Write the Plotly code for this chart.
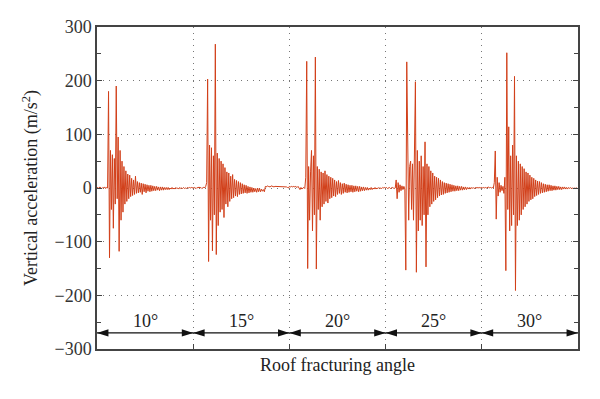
import numpy as np
import plotly.graph_objects as go

# ---- data ----
angle_labels = ["10°", "15°", "20°", "25°", "30°"]

seg_10 = [0, 1, -1, 2, 0, -1, 1, 0, 2, -1, 1, 0,
          180, -130, 70, -40, 62, -75, 55, -30, 190, -20, 95, -118,
          70, -60, 50, -45, 40, -30, 32, -25, 26, -20, 24, -16,
          18, -14, 15, -12, 22, -10, 12, -9, 10, -8, 9, -12,
          8, -7, 7, -9, 6, -6, 5, -7, 5, -6, 4, -5,
          3, -5, 3, -4, 2, -5, 2, -4, 2, -4, 1, -3,
          1, -3, 1, -3, 0, -2, 1, -2, 0, -2, 1, -1,
          0, -2, 1, -1, 0, -1, 1, -1, 0, -1, 1, 0, 1, 0, 1, 0]

seg_15 = [0, 1, 0, -1, 1, 0, 2, 0, 1, -1, 0, 2, 0, 3,
          10, 203, -137, 80, -60, 75, -117, 60, -50, 268, -124, 65,
          -70, 55, -45, 50, -40, 45, -55, 38, -30, 30, -35, 28,
          -25, 22, -20, 25, -18, 16, -15, 14, -16, 12, -12, 10,
          -11, 8, -10, 6, -9, 5, -10, 3, -9, 2, -8, 1,
          -8, 0, -7, -1, -8, 0, -7, -1, -7, -2, -6, -3,
          -7, 3, 2, 4, 3, 3, 2, 4, 3, 3, 2, 3,
          3, 2, 3, 3, 2, 3, 2, 3, 3, 2, 3, 2, 1, 0]

seg_20 = [3, 2, 3, 2, 3, 2, 3, 2, 1, 3, 0, -3, 1, -2, 0, 1, -1,
          20, 236, -150, 40, -60, 30, 70, -80, 60, -50, 244, -151,
          40, -40, 35, -60, 30, -35, 28, -30, 32, -25, 25, -28,
          22, -20, 20, -18, 18, -15, 15, -16, 12, -12, 14, -10,
          10, -12, 8, -10, 9, -8, 7, -9, 6, -8, 5, -7,
          5, -8, 4, -7, 4, -6, 3, -7, 3, -6, 2, -5,
          2, -5, 1, -4, 1, -4, 0, -3, 1, -3, 0, -2,
          1, -2, 0, -1, 1, -1, 0, -1, 1, 0, 1]

seg_25 = [0, 1, -1, 0, 1, -1, 0, 1, 0, -1, 0,
          15, -20, 10, -8, 6, -5, 4, -3, 3, -2,
          -153, 235, 60, -60, 40, 50, -40, 45, -60, 55, 198, -157,
          70, -80, 50, -60, 60, -70, 40, -50, 86, -147, 45, -50,
          40, -35, 32, -30, 28, -25, 22, -22, 20, -18, 18, -15,
          15, -13, 12, -12, 10, -10, 9, -9, 8, -8, 7, -7,
          6, -6, 5, -6, 4, -5, 4, -5, 3, -4, 3, -4,
          2, -3, 2, -3, 1, -2, 1, -2, 1, -1, 1, -1, 0, 1, 0, 1, 0, 1, 0]

seg_30 = [1, 0, 1, 0, 1, 0, 1, 2, 0, 1, 0, 1, 0,
          10, 69, -58, 20, -15, 10, -8, 5, -5, 3, -10, 20,
          -154, 252, -40, 114, -80, 60, -70, 80, -50, 208, -191, 60,
          -70, 50, -60, 45, -50, 40, -40, 36, -35, 30, -30, 28,
          -25, 24, -22, 20, -20, 18, -16, 15, -14, 13, -12, 12,
          -10, 10, -9, 8, -8, 7, -7, 6, -6, 6, -5, 5,
          -5, 4, -4, 4, -4, 3, -3, 3, -3, 2, -3, 2,
          -2, 2, -2, 1, -2, 1, -1, 1, -1, 0, -1, 0, -1, 0, 0]

segments = [seg_10, seg_15, seg_20, seg_25, seg_30]

y_ticks = [-300, -200, -100, 0, 100, 200, 300]
arrow_level = -270

# ---- build series ----
xs, ys = [], []
for k, seg in enumerate(segments):
    n = len(seg)
    xs.extend(np.linspace(k, k + 1, n, endpoint=False))
    ys.extend(seg)

color = "#D2401A"
serif = "Liberation Serif"

fig = go.Figure()
fig.add_trace(go.Scatter(x=xs, y=ys, mode="lines",
                         line=dict(color=color, width=1), showlegend=False))

# double-headed arrows for each segment
for k in range(len(angle_labels)):
    fig.add_trace(go.Scatter(
        x=[k, k + 1], y=[arrow_level, arrow_level], mode="lines+markers",
        line=dict(color="#111", width=1.2),
        marker=dict(symbol="arrow", size=12, angle=[-90, 90], color="#111",
                    line=dict(width=0)),
        showlegend=False, hoverinfo="skip", cliponaxis=False))

annotations = []
for k, lab in enumerate(angle_labels):
    annotations.append(dict(x=k + 0.5, y=arrow_level, xref="x", yref="y",
                            text=lab, showarrow=False, yanchor="bottom",
                            yshift=0, font=dict(size=18, color="#222", family=serif)))

fig.update_layout(
    width=600, height=399,
    margin=dict(l=89, r=30, t=19, b=58),
    paper_bgcolor="white", plot_bgcolor="white",
    font=dict(family=serif, size=18, color="#222"),
    annotations=annotations,
    xaxis=dict(range=[0, 5], tickvals=[1, 2, 3, 4], showticklabels=False,
               ticks="inside", ticklen=5, tickcolor="#444",
               showline=True, linecolor="#444", linewidth=1.5, mirror=True,
               showgrid=True, gridcolor="#777", griddash="1px,5px", gridwidth=1,
               zeroline=False, automargin=False,
               title=dict(text="Roof fracturing angle", standoff=9,
                          font=dict(size=18, family=serif))),
    yaxis=dict(range=[-300, 300], tickvals=y_ticks,
               ticks="inside", ticklen=5, tickcolor="#444",
               minor=dict(dtick=50, ticks="inside", ticklen=4, tickcolor="#444", showgrid=False),
               showline=True, linecolor="#444", linewidth=1.5, mirror="ticks",
               showgrid=True, gridcolor="#777", griddash="1px,5px", gridwidth=1,
               zeroline=False, automargin=False,
               tickfont=dict(size=18, family=serif, color="#333"),
               title=dict(text="Vertical acceleration (m/s<sup>2</sup>)", standoff=12,
                          font=dict(size=18, family=serif))),
)

fig.write_html("out.html")
